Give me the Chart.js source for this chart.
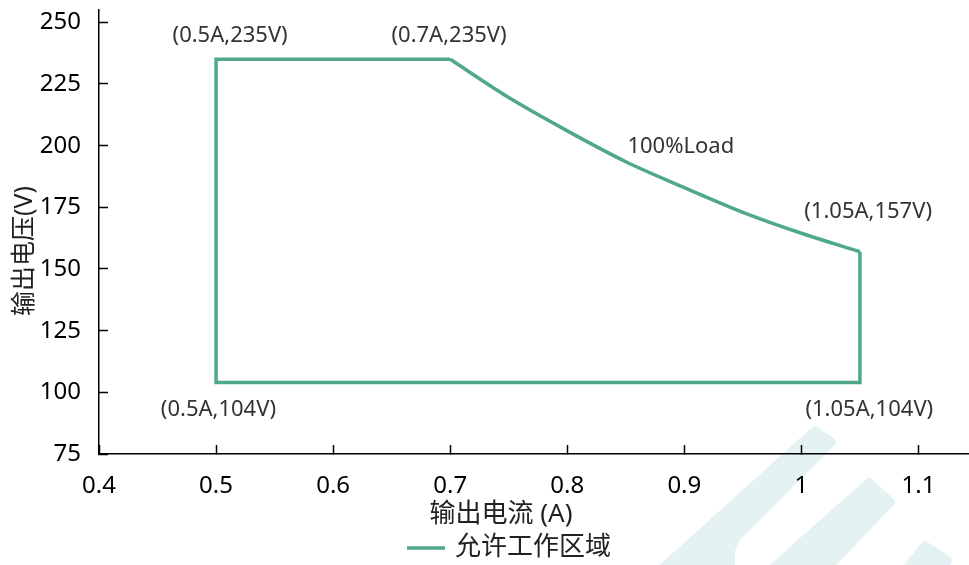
<!DOCTYPE html>
<html>
<head>
<meta charset="utf-8">
<script src="https://cdn.jsdelivr.net/npm/chart.js@4.4.0/dist/chart.umd.min.js"></script>
<style>
  html, body { margin: 0; padding: 0; background: #fff; overflow: hidden; }
  #wrap { width: 980px; height: 565px; }
</style>
</head>
<body>
<div id="wrap"><canvas id="chart" width="980" height="565"></canvas></div>
<script>
// ---------- Data ----------
// straight edges of the allowed area
const edgeA = [1.05, 1.05, 0.5, 0.5, 0.7];
const edgeV = [157, 104, 104, 235, 235];
// 100% load curve between (0.7A,235V) and (1.05A,157V)
const curveA = [0.7, 0.75, 0.8, 0.85, 0.9, 0.95, 1.0, 1.05];
const curveV = [235, 219.5, 206, 193.5, 183, 173, 164.5, 157];
const xTicks = [0.4, 0.5, 0.6, 0.7, 0.8, 0.9, 1, 1.1];
const yTicks = [75, 100, 125, 150, 175, 200, 225, 250];
const seriesName = "允许工作区域";
const xTitle = "输出电流 (A)";
const yTitle = "输出电压(V)";

// point labels, placed in data units
const noteText = ["(0.5A,235V)", "(0.7A,235V)", "100%Load", "(1.05A,157V)", "(0.5A,104V)", "(1.05A,104V)"];
const noteA = [0.512, 0.699, 0.897, 1.057, 0.502, 1.058];
const noteV = [244.4, 244.4, 199.5, 173.1, 92.8, 92.8];

const lineColor = "#4ea889";
const fontFamily = "'Noto Sans', 'Noto Sans CJK SC', sans-serif";
Chart.defaults.font.family = fontFamily;

// ---------- Plugins ----------
const watermark = {
  id: "watermark",
  beforeDraw(chart) {
    const ctx = chart.ctx;
    const bands = [
      [[815, 430], [832, 442], [737, 537], [731, 550], [731, 570], [660, 570]],
      [[869, 482], [891, 502], [826, 570], [770, 570]],
      [[925, 545], [948, 560], [944, 570], [905, 570]]
    ];
    ctx.save();
    ctx.fillStyle = "#e4f2f3";
    ctx.strokeStyle = "#e4f2f3";
    ctx.lineWidth = 8;
    ctx.lineJoin = "round";
    bands.forEach(b => {
      ctx.beginPath();
      b.forEach((p, i) => (i ? ctx.lineTo(p[0], p[1]) : ctx.moveTo(p[0], p[1])));
      ctx.closePath();
      ctx.fill();
      ctx.stroke();
    });
    ctx.restore();
  }
};

const notes = {
  id: "notes",
  afterDatasetsDraw(chart) {
    const ctx = chart.ctx;
    const xs = chart.scales.x, ys = chart.scales.y;
    ctx.save();
    ctx.font = "22px " + fontFamily;
    ctx.fillStyle = "#333";
    ctx.textAlign = "center";
    ctx.textBaseline = "middle";
    noteText.forEach((t, i) => {
      ctx.fillText(t, xs.getPixelForValue(noteA[i]), ys.getPixelForValue(noteV[i]));
    });
    ctx.restore();
  }
};

const titlesAndLegend = {
  id: "titlesAndLegend",
  afterDraw(chart) {
    const ctx = chart.ctx;
    ctx.save();
    ctx.fillStyle = "#222";
    ctx.textBaseline = "middle";

    // y title
    ctx.save();
    ctx.translate(25, 251);
    ctx.rotate(-Math.PI / 2);
    ctx.textAlign = "center";
    ctx.font = "25px " + fontFamily;
    ctx.fillText(yTitle, 0, 0);
    ctx.restore();

    // x title
    ctx.textAlign = "center";
    ctx.font = "26px " + fontFamily;
    ctx.fillText(xTitle, 501, 515);

    // legend
    ctx.strokeStyle = chart.data.datasets[0].borderColor;
    ctx.lineWidth = 3.5;
    ctx.beginPath();
    ctx.moveTo(407, 548);
    ctx.lineTo(445, 548);
    ctx.stroke();
    ctx.textAlign = "left";
    ctx.font = "26px " + fontFamily;
    ctx.fillText(chart.data.datasets[0].label, 455, 548);
    ctx.restore();
  }
};

// ---------- Chart ----------
const ctx = document.getElementById("chart").getContext("2d");
new Chart(ctx, {
  type: "line",
  data: {
    datasets: [{
      label: seriesName,
      data: edgeA.map((a, i) => ({ x: a, y: edgeV[i] })),
      borderColor: lineColor,
      borderWidth: 3.5,
      pointRadius: 0,
      tension: 0,
      fill: false
    }, {
      label: seriesName,
      data: curveA.map((a, i) => ({ x: a, y: curveV[i] })),
      borderColor: lineColor,
      borderWidth: 3.5,
      pointRadius: 0,
      cubicInterpolationMode: "monotone",
      fill: false
    }]
  },
  options: {
    responsive: false,
    animation: false,
    layout: { autoPadding: false, padding: { top: 10, right: 3, left: 0, bottom: 0 } },
    plugins: {
      legend: { display: false },
      tooltip: { enabled: false }
    },
    scales: {
      x: {
        type: "linear",
        min: 0.4,
        max: 1.15,
        afterBuildTicks: s => { s.ticks = xTicks.map(v => ({ value: v })); },
        afterFit: s => { s.height = 111; s.paddingLeft = 0; s.paddingRight = 0; },
        border: { color: "#000", width: 1.5 },
        grid: { drawOnChartArea: false, tickLength: -9, tickColor: "#000", tickWidth: 1.5 },
        ticks: {
          color: "#000",
          font: { size: 24 },
          padding: 27,
          maxRotation: 0,
          callback: v => String(v)
        }
      },
      y: {
        type: "linear",
        min: 75,
        max: 255,
        afterBuildTicks: s => { s.ticks = yTicks.map(v => ({ value: v })); },
        afterFit: s => { s.width = 99; s.paddingTop = 0; s.paddingBottom = 0; },
        border: { color: "#000", width: 1.5 },
        grid: { drawOnChartArea: false, tickLength: -9, tickColor: "#000", tickWidth: 1.5 },
        ticks: {
          color: "#000",
          font: { size: 24 },
          padding: 27,
          callback: v => String(v)
        }
      }
    }
  },
  plugins: [watermark, notes, titlesAndLegend]
});
</script>
</body>
</html>
